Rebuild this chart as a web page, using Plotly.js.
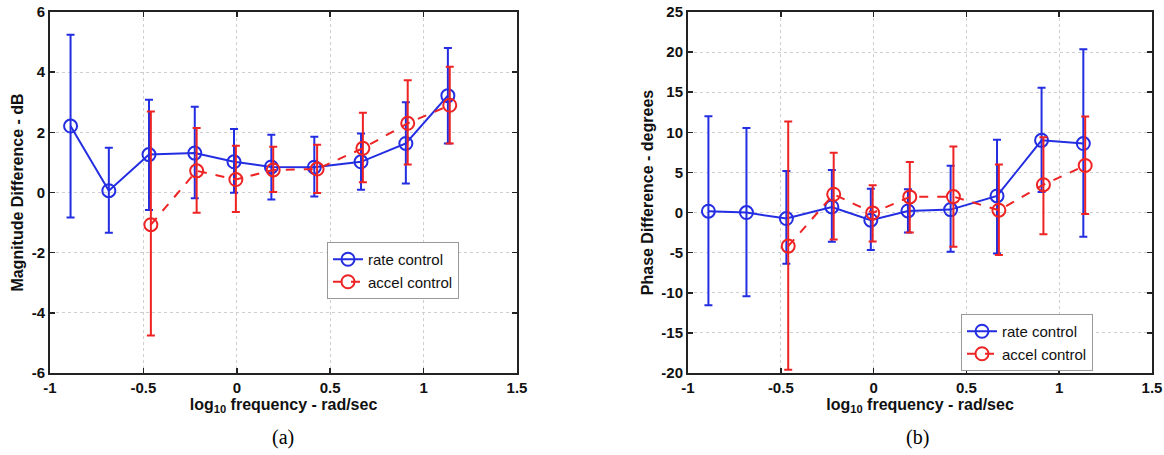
<!DOCTYPE html>
<html>
<head>
<meta charset="utf-8">
<script src="https://cdn.plot.ly/plotly-3.0.1.min.js"></script>
<style>html,body{margin:0;padding:0;background:#fff;}#chart{width:1164px;height:455px;}</style>
</head>
<body>
<div id="chart"></div>
<script>
// ---- data ----
const rateX = [-0.89, -0.685, -0.47, -0.225, -0.015, 0.185, 0.415, 0.665, 0.905, 1.13];
const accelX = [-0.46, -0.215, -0.005, 0.195, 0.43, 0.675, 0.915, 1.14];

const magRate = [2.21, 0.06, 1.26, 1.31, 1.02, 0.85, 0.84, 1.02, 1.63, 3.22];
const magRateHi = [5.24, 1.49, 3.08, 2.85, 2.11, 1.92, 1.85, 1.96, 3.00, 4.80];
const magRateLo = [-0.83, -1.34, -0.58, -0.19, -0.01, -0.23, -0.13, 0.09, 0.30, 1.63];
const magAccel = [-1.07, 0.72, 0.43, 0.75, 0.78, 1.47, 2.30, 2.90];
const magAccelHi = [2.69, 2.14, 1.55, 1.52, 1.59, 2.65, 3.73, 4.18];
const magAccelLo = [-4.75, -0.67, -0.65, 0.02, -0.02, 0.34, 0.93, 1.63];

const phRate = [0.17, 0.0, -0.75, 0.70, -0.95, 0.20, 0.37, 2.07, 9.00, 8.60];
const phRateHi = [12.0, 10.55, 5.17, 5.30, 2.98, 2.9, 5.84, 9.07, 15.57, 20.35];
const phRateLo = [-11.55, -10.43, -6.37, -3.64, -4.68, -2.48, -4.88, -5.09, 2.56, -3.03];
const phAccel = [-4.18, 2.28, -0.04, 1.95, 1.99, 0.29, 3.47, 5.87];
const phAccelHi = [11.34, 7.45, 3.39, 6.29, 8.24, 6.00, 9.40, 11.97];
const phAccelLo = [-19.58, -3.35, -3.60, -2.48, -4.26, -5.30, -2.69, -0.17];

const xTicks = [-1, -0.5, 0, 0.5, 1, 1.5];
const magTicks = [-6, -4, -2, 0, 2, 4, 6];
const phTicks = [-20, -15, -10, -5, 0, 5, 10, 15, 20, 25];

const seriesNames = ['rate control', 'accel control'];
const panelLabels = ['(a)', '(b)'];
// ---------------

const BLUE = 'rgb(35,45,225)';
const RED = 'rgb(238,35,35)';

function diff(a, b) { return a.map((v, i) => v - b[i]); }
function trace(x, y, hi, lo, color, dash, name, xa, ya, leg) {
  return {
    x: x, y: y, type: 'scatter', mode: 'lines+markers', name: name,
    xaxis: xa, yaxis: ya, legend: leg,
    line: {color: color, width: 2, dash: dash},
    marker: {symbol: 'circle-open', size: 13, color: color, line: {width: 2, color: color}},
    error_y: {type: 'data', symmetric: false, array: diff(hi, y), arrayminus: diff(y, lo),
              color: color, thickness: 2, width: 4}
  };
}

const data = [
  trace(rateX, magRate, magRateHi, magRateLo, BLUE, 'solid', seriesNames[0], 'x', 'y', 'legend'),
  trace(accelX, magAccel, magAccelHi, magAccelLo, RED, 'dash', seriesNames[1], 'x', 'y', 'legend'),
  trace(rateX, phRate, phRateHi, phRateLo, BLUE, 'solid', seriesNames[0], 'x2', 'y2', 'legend2'),
  trace(accelX, phAccel, phAccelHi, phAccelLo, RED, 'dash', seriesNames[1], 'x2', 'y2', 'legend2')
];

const tickFont = {family: 'Liberation Sans, Arial, sans-serif', size: 15, color: '#111', weight: 'bold'};
const titleFont = {family: 'Liberation Sans, Arial, sans-serif', size: 16, color: '#111', weight: 'bold'};

function xaxis(domain, anchor) {
  return {
    domain: domain, anchor: anchor, range: [-1, 1.5], tickvals: xTicks, ticktext: xTicks.map(String),
    showline: true, linecolor: '#222', linewidth: 2, mirror: 'allticks',
    ticks: 'inside', ticklen: 5, tickcolor: '#222', tickwidth: 1.5,
    showgrid: true, gridcolor: '#cfcfcf', griddash: 'dot', gridwidth: 1, zeroline: false,
    tickfont: tickFont,
    title: {text: 'log<sub>10</sub> frequency - rad/sec', font: titleFont, standoff: 0}
  };
}
function yaxis(domain, anchor, range, ticks, title) {
  return {
    domain: domain, anchor: anchor, range: range, tickvals: ticks, ticktext: ticks.map(String),
    showline: true, linecolor: '#222', linewidth: 2, mirror: 'allticks',
    ticks: 'inside', ticklen: 5, tickcolor: '#222', tickwidth: 1.5,
    showgrid: true, gridcolor: '#cfcfcf', griddash: 'dot', gridwidth: 1, zeroline: false,
    tickfont: tickFont,
    title: {text: title, font: titleFont, standoff: 4}
  };
}

const yDom = [1 - 373 / 455, 1 - 12 / 455];
const legendStyle = {
  bgcolor: '#fff', bordercolor: '#999', borderwidth: 1,
  font: {family: 'Liberation Sans, Arial, sans-serif', size: 15, color: '#111'},
  xanchor: 'left', yanchor: 'top', tracegroupgap: 0, itemwidth: 30
};

const layout = {
  width: 1164, height: 455,
  margin: {l: 0, r: 0, t: 0, b: 0},
  paper_bgcolor: '#fff', plot_bgcolor: '#fff',
  showlegend: true,
  xaxis: xaxis([50 / 1164, 517 / 1164], 'y'),
  yaxis: yaxis(yDom, 'x', [-6, 6], magTicks, 'Magnitude Difference - dB'),
  xaxis2: xaxis([688 / 1164, 1152 / 1164], 'y2'),
  yaxis2: yaxis(yDom, 'x2', [-20, 25], phTicks, 'Phase Difference - degrees'),
  legend: Object.assign({x: 327 / 1164, y: 1 - 242 / 455}, legendStyle),
  legend2: Object.assign({x: 961 / 1164, y: 1 - 314 / 455}, legendStyle),
  annotations: [
    {text: panelLabels[0], x: 283 / 1164, y: 1 - 437 / 455, xref: 'paper', yref: 'paper',
     xanchor: 'center', yanchor: 'middle', showarrow: false,
     font: {family: 'Liberation Serif, Times New Roman, serif', size: 20, color: '#000'}},
    {text: panelLabels[1], x: 917 / 1164, y: 1 - 437 / 455, xref: 'paper', yref: 'paper',
     xanchor: 'center', yanchor: 'middle', showarrow: false,
     font: {family: 'Liberation Serif, Times New Roman, serif', size: 20, color: '#000'}}
  ]
};

Plotly.newPlot('chart', data, layout, {staticPlot: true, displayModeBar: false});
</script>
</body>
</html>
